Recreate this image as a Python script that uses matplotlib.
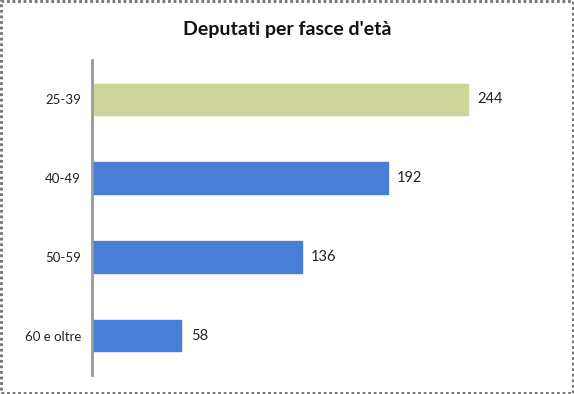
import matplotlib.pyplot as plt
from matplotlib.patches import Rectangle

categories = ['25-39', '40-49', '50-59', '60 e oltre']
deputati = [244, 192, 136, 58]
colors = ['#cdd59a', '#4a7dd6', '#4a7dd6', '#4a7dd6']

plt.rcParams['font.family'] = ['Lato', 'DejaVu Sans']

fig = plt.figure(figsize=(5.74, 3.94), dpi=100)
ax = fig.add_axes([0.1603, 0.048, 0.80, 0.80])

ypos = list(range(len(categories)))
ax.barh(ypos, deputati, height=0.4, color=colors, edgecolor=colors)
for y, v in zip(ypos, deputati):
    ax.text(v + 6, y, str(v), va='center', ha='left', fontsize=10.5, color='#222222')

ax.set_ylim(3.5, -0.5)
ax.set_xlim(0, 298)
ax.set_yticks(ypos)
ax.set_yticklabels(categories, fontsize=9.5, color='#222222')
ax.tick_params(axis='y', length=0, pad=8)
ax.set_xticks([])
for s in ['top', 'right', 'bottom']:
    ax.spines[s].set_visible(False)
ax.spines['left'].set_color('#999999')
ax.spines['left'].set_linewidth(2)

fig.text(0.5, 0.925, "Deputati per fasce d'età", ha='center', va='center',
         fontsize=14, fontweight='bold', color='#111111')

fig.patches.append(Rectangle((0.002, 0.003), 0.996, 0.994, transform=fig.transFigure,
                             fill=False, edgecolor='#707070', linewidth=2,
                             linestyle=(0, (1, 1))))

fig.savefig('out.png', dpi=100)
